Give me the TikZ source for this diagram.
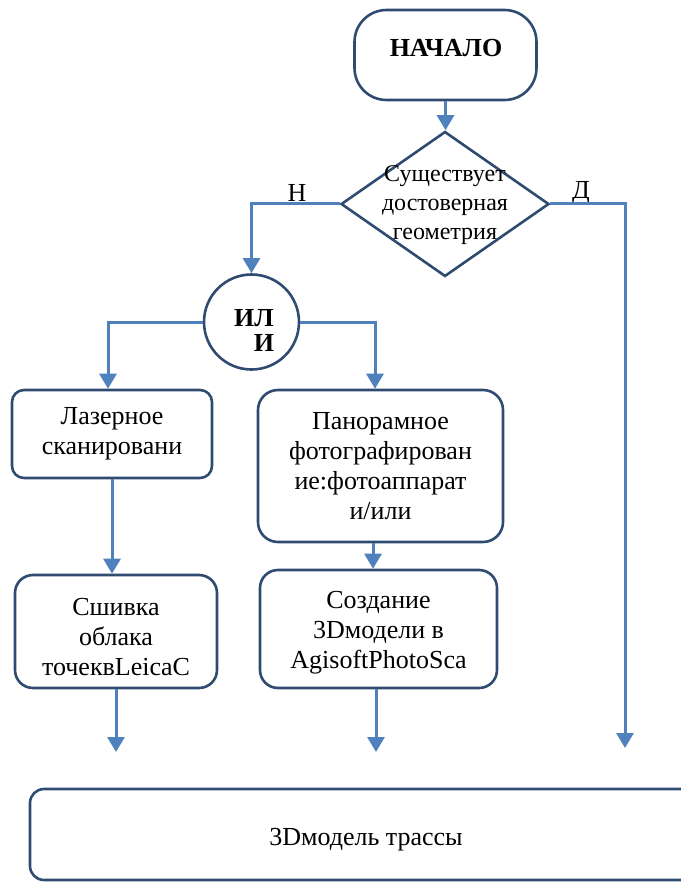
\documentclass[tikz,border=0pt]{standalone}
\usepackage{fontspec}
\setmainfont{Liberation Serif}
\usetikzlibrary{shapes.geometric,arrows.meta}
\definecolor{outl}{HTML}{2F4B70}
\definecolor{conb}{HTML}{4F81BD}
\begin{document}
\begin{tikzpicture}[x=1pt,y=-1pt,
 box/.style={draw=outl,line width=2.6pt,rounded corners=12pt,align=center,inner sep=0pt,font=\fontsize{26}{30}\selectfont},
 shp/.style={draw=outl,line width=2.6pt,inner sep=0pt},
 conn/.style={draw=conb,line width=3pt,-{Triangle[length=15pt,width=17pt]}},
 txt/.style={align=center,inner sep=0pt,font=\fontsize{26}{30}\selectfont},
 btxt/.style={align=center,inner sep=0pt,font=\fontsize{26}{30}\selectfont\bfseries}]
\useasboundingbox (0,0) rectangle (680,882);
% start
\node[shp,rounded corners=32pt,minimum width=182pt,minimum height=90pt] (start) at (445.5,55) {};
\node[btxt] (startt) at (446,48) {НАЧАЛО};
% decision
\node[shp,diamond,minimum width=208pt,minimum height=145pt] (dec) at (445,204) {};
\node[align=center,inner sep=0pt,font=\fontsize{24}{29}\selectfont] (dect) at (445,205) {Существует\\достоверная\\геометрия};
\node[txt] (lh) at (297,193) {Н};
\node[txt] (ld) at (581,193) {Д};
% OR circle
\node[shp,circle,minimum size=95pt] (orc) at (251.5,322) {};
\node[btxt] (ort1) at (254,318) {ИЛ};
\node[btxt] (ort2) at (264,343) {И};
% boxes
\node[box,minimum width=200pt,minimum height=88pt] (las) at (112,434) {Лазерное\\сканировани};
\node[box,rounded corners=20pt,minimum width=245pt,minimum height=152pt] (pan) at (380.5,466) {Панорамное\\фотографирован\\ие:фотоаппарат\\и/или};
\node[box,rounded corners=18pt,minimum width=202pt,minimum height=113pt] (sh) at (116,631.5) {};
\node[txt] (sht) at (116,637) {Сшивка\\облака\\точеквLeicaC};
\node[box,rounded corners=18pt,minimum width=237pt,minimum height=118pt] (cr) at (378.5,629) {};
\node[txt] (crt) at (378.5,633) {Создание\\3Dмодели в\\AgisoftPhotoSca};
\node[box,rounded corners=14pt,minimum width=690pt,minimum height=91pt] (res) at (375,834.5) {};
\node[txt] (rest) at (366,840) {3Dмодель трассы};
% free ends
\coordinate (rend) at (625,748);
\coordinate (e1) at (116,752);
\coordinate (e2) at (376,752);
% connectors
\draw[conn] (start.south) -- (start.south |- dec.north);
\draw[conn] (dec.west) -| (orc.north);
\draw[conn] (dec.east) -| (rend);
\draw[conn] (orc.west) -| ([xshift=-4pt]las.north);
\draw[conn] (orc.east) -| ([xshift=-5.5pt]pan.north);
\draw[conn] (las.south) -- (las.south |- sh.north);
\draw[conn] ([xshift=-7.5pt]pan.south) -- ([xshift=-7.5pt]pan.south |- cr.north);
\draw[conn] (sh.south) -- (e1);
\draw[conn] ([xshift=-2.5pt]cr.south) -- (e2);
\end{tikzpicture}
\end{document}
